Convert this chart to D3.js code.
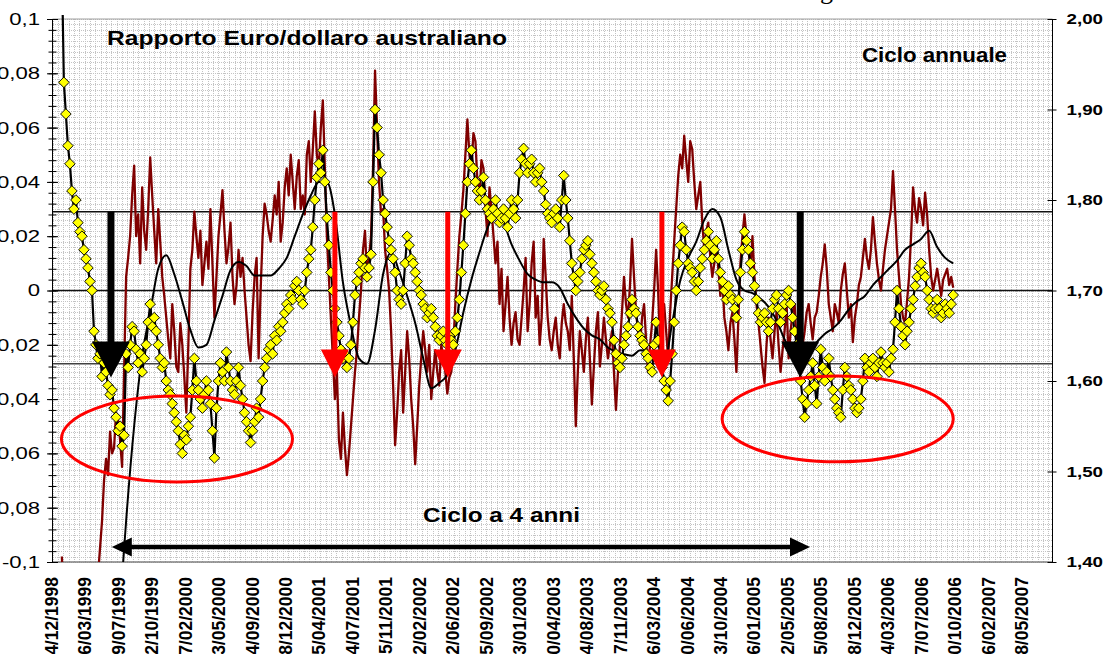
<!DOCTYPE html>
<html>
<head>
<meta charset="utf-8">
<script src="https://cdn.jsdelivr.net/npm/d3@7"></script>
<style>
html, body { margin: 0; padding: 0; background: #fff; overflow: hidden; }
svg { display: block; }
text { font-family: "Liberation Sans", Arial, sans-serif; }
</style>
</head>
<body>
<div id="chart"></div>
<script>
// Etichette dell'asse delle categorie (posizione = indice dell'etichetta)
const DATE_LABELS = [
    "14/12/1998", "26/03/1999", "09/07/1999", "22/10/1999", "07/02/2000", "23/05/2000",
    "04/09/2000", "18/12/2000", "05/04/2001", "24/07/2001", "05/11/2001", "22/02/2002",
    "12/06/2002", "25/09/2002", "13/01/2003", "30/04/2003", "14/08/2003", "27/11/2003",
    "16/03/2004", "30/06/2004", "13/10/2004", "26/01/2005", "12/05/2005", "25/08/2005",
    "08/12/2005", "24/03/2006", "07/07/2006", "20/10/2006", "06/02/2007", "18/05/2007"
];
const X_MAX = 29.887;   // fine dell'asse, in intervalli fra etichette

// Serie campionate: primo punto e passo, in intervalli fra etichette
const SERIES_START = 0.28;
const SERIES_STEP = 0.06;

// Oscillatore ciclo annuale (asse sinistro)
const OSCILLATOR = [
    -0.098, -0.115, -0.13, -0.15, -0.16, -0.17, -0.18, -0.175, -0.17, -0.16,
    -0.15, -0.145, -0.14, -0.135, -0.13, -0.125, -0.12, -0.11, -0.105, -0.095,
    -0.085, -0.07, -0.062, -0.068, -0.052, -0.06, -0.058, -0.045, -0.048, -0.055,
    -0.065, -0.03, 0.005, 0.012, 0.020, 0.035, 0.046, 0.02, 0.028, 0.01,
    0.038, 0.022, 0.015, 0.03, 0.049, 0.035, 0.022, 0.01, 0.030, 0.018,
    0.005, -0.002, -0.010, -0.018, -0.025, -0.005, -0.015, -0.028, -0.030, -0.012,
    -0.020, -0.032, -0.045, -0.02, 0.008, 0.015, 0.029, 0.02, 0.012, 0.022,
    0.002, 0.01, 0.018, 0.008, 0.030, 0.01, -0.010, 0.005, 0.020, 0.028,
    0.037, 0.022, 0.010, 0.016, 0.025, 0.005, -0.005, 0.002, 0.015, 0.005,
    0.012, 0.0, -0.010, -0.02, -0.026, -0.008, 0.005, 0.012, -0.025, 0.0,
    0.020, 0.032, 0.028, 0.022, 0.018, 0.026, 0.035, 0.028, 0.040, 0.018,
    0.025, 0.038, 0.045, 0.035, 0.050, 0.04, 0.030, 0.042, 0.048, 0.03,
    0.035, 0.028, 0.050, 0.055, 0.040, 0.052, 0.066, 0.05, 0.045, 0.06,
    0.070, 0.045, 0.020, 0.005, -0.010, -0.025, -0.040, -0.03, -0.055, -0.062,
    -0.045, -0.058, -0.068, -0.06, -0.050, -0.04, -0.030, -0.022, -0.010, 0.0,
    0.015, 0.022, 0.005, 0.012, 0.020, 0.045, 0.081, 0.06, 0.040, 0.028,
    0.030, 0.015, 0.008, 0.0, -0.015, -0.035, -0.057, -0.045, -0.030, -0.022,
    -0.045, -0.03, -0.015, -0.025, -0.040, -0.05, -0.064, -0.05, -0.035, -0.025,
    -0.015, -0.022, -0.030, -0.02, -0.040, -0.03, -0.022, -0.03, -0.035, -0.02,
    -0.025, -0.03, -0.038, -0.032, -0.030, -0.02, -0.005, 0.008, 0.020, 0.028,
    0.037, 0.05, 0.063, 0.05, 0.045, 0.058, 0.055, 0.04, 0.035, 0.048,
    0.045, 0.03, 0.020, 0.038, 0.030, 0.02, 0.010, 0.018, -0.005, 0.008,
    -0.015, -0.005, 0.005, -0.01, -0.020, -0.012, -0.008, -0.018, -0.020, -0.01,
    0.000, 0.012, -0.015, -0.005, 0.010, 0.018, -0.010, -0.002, -0.020, -0.01,
    0.019, 0.005, -0.010, -0.018, -0.022, -0.015, -0.010, -0.02, -0.025, -0.012,
    -0.005, -0.012, -0.015, -0.022, -0.002, -0.025, -0.050, -0.03, -0.015, -0.022,
    -0.030, -0.018, -0.010, -0.025, -0.042, -0.028, -0.015, -0.008, -0.028, -0.02,
    -0.010, -0.018, -0.025, -0.02, -0.015, -0.03, -0.044, -0.03, -0.020, -0.008,
    0.005, -0.005, -0.010, 0.002, 0.019, 0.005, -0.008, -0.015, -0.020, -0.01,
    -0.005, -0.018, -0.030, -0.02, -0.012, 0.0, 0.015, 0.0, -0.020, -0.012,
    -0.005, -0.015, -0.025, -0.008, 0.005, 0.018, 0.030, 0.042, 0.050, 0.045,
    0.057, 0.048, 0.040, 0.055, 0.052, 0.04, 0.030, 0.035, 0.040, 0.025,
    0.015, 0.022, 0.025, 0.012, 0.005, 0.01, 0.018, 0.008, -0.002, 0.004,
    -0.010, -0.015, -0.022, -0.012, -0.008, -0.018, -0.030, -0.01, 0.010, 0.02,
    0.028, 0.02, 0.015, 0.008, 0.020, 0.005, -0.005, -0.012, -0.020, -0.028,
    -0.034, -0.02, -0.010, -0.018, -0.025, -0.015, -0.008, -0.02, -0.030, -0.022,
    -0.015, -0.005, -0.025, -0.015, -0.008, -0.005, -0.020, -0.012, -0.010, -0.02,
    -0.015, -0.008, -0.005, -0.012, -0.018, -0.01, -0.008, -0.002, 0.005, 0.01,
    0.017, 0.008, -0.005, -0.01, -0.015, -0.005, -0.008, -0.012, 0.000, 0.006,
    0.010, 0.0, -0.010, -0.005, -0.019, -0.01, -0.005, 0.002, 0.005, 0.012,
    0.019, 0.012, 0.008, 0.015, 0.027, 0.018, 0.010, 0.004, 0.000, 0.008,
    0.015, 0.02, 0.025, 0.03, 0.044, 0.03, 0.015, 0.005, -0.005, -0.01,
    -0.012, -0.004, 0.005, 0.02, 0.038, 0.03, 0.025, 0.034, 0.030, 0.024,
    0.036, 0.028, 0.015, 0.005, 0.000, 0.004, 0.008, 0.003, -0.002, 0.004,
    0.006, 0.008, 0.002, 0.005, 0.001
];

// Cambio EUR/AUD (asse destro)
const PRICE = [
    2.06, 1.93, 1.895, 1.86, 1.84, 1.81, 1.79, 1.80, 1.775, 1.765,
    1.76, 1.745, 1.735, 1.725, 1.71, 1.70, 1.655, 1.64, 1.625, 1.63,
    1.605, 1.62, 1.61, 1.595, 1.585, 1.59, 1.57, 1.56, 1.545, 1.55,
    1.528, 1.54, 1.63, 1.615, 1.64, 1.66, 1.655, 1.635, 1.62, 1.63,
    1.61, 1.625, 1.64, 1.665, 1.685, 1.66, 1.67, 1.655, 1.64, 1.625,
    1.615, 1.62, 1.60, 1.59, 1.585, 1.575, 1.565, 1.555, 1.545, 1.53,
    1.52, 1.54, 1.535, 1.55, 1.56, 1.59, 1.625, 1.60, 1.59, 1.58,
    1.57, 1.585, 1.60, 1.59, 1.575, 1.545, 1.515, 1.57, 1.60, 1.62,
    1.61, 1.60, 1.632, 1.615, 1.60, 1.59, 1.585, 1.60, 1.615, 1.595,
    1.58, 1.565, 1.555, 1.545, 1.532, 1.545, 1.555, 1.57, 1.56, 1.58,
    1.60, 1.615, 1.625, 1.635, 1.64, 1.63, 1.65, 1.645, 1.66, 1.655,
    1.665, 1.675, 1.685, 1.68, 1.695, 1.69, 1.705, 1.71, 1.70, 1.69,
    1.685, 1.70, 1.72, 1.735, 1.745, 1.77, 1.80, 1.825, 1.84, 1.83,
    1.855, 1.82, 1.78, 1.75, 1.72, 1.70, 1.68, 1.665, 1.65, 1.635,
    1.625, 1.63, 1.615, 1.625, 1.64, 1.665, 1.695, 1.71, 1.72, 1.73,
    1.735, 1.725, 1.715, 1.725, 1.74, 1.82, 1.90, 1.88, 1.85, 1.83,
    1.80, 1.785, 1.77, 1.755, 1.745, 1.735, 1.72, 1.70, 1.69, 1.685,
    1.70, 1.73, 1.76, 1.75, 1.735, 1.73, 1.72, 1.71, 1.70, 1.695,
    1.685, 1.68, 1.67, 1.675, 1.68, 1.67, 1.66, 1.65, 1.645, 1.65,
    1.655, 1.645, 1.64, 1.65, 1.645, 1.64, 1.655, 1.67, 1.69, 1.72,
    1.75, 1.785, 1.82, 1.84, 1.855, 1.835, 1.82, 1.81, 1.80, 1.81,
    1.825, 1.80, 1.79, 1.785, 1.78, 1.79, 1.80, 1.785, 1.775, 1.78,
    1.79, 1.78, 1.77, 1.785, 1.80, 1.79, 1.78, 1.80, 1.83, 1.845,
    1.857, 1.84, 1.83, 1.84, 1.845, 1.83, 1.82, 1.83, 1.835, 1.82,
    1.81, 1.795, 1.785, 1.78, 1.775, 1.785, 1.79, 1.78, 1.77, 1.80,
    1.827, 1.80, 1.78, 1.755, 1.73, 1.715, 1.70, 1.71, 1.72, 1.735,
    1.745, 1.75, 1.755, 1.74, 1.73, 1.72, 1.71, 1.70, 1.695, 1.70,
    1.705, 1.69, 1.68, 1.675, 1.665, 1.645, 1.63, 1.62, 1.615, 1.625,
    1.64, 1.65, 1.66, 1.675, 1.69, 1.68, 1.675, 1.66, 1.65, 1.645,
    1.64, 1.63, 1.625, 1.615, 1.61, 1.64, 1.665, 1.645, 1.63, 1.615,
    1.60, 1.59, 1.578, 1.60, 1.63, 1.665, 1.70, 1.73, 1.75, 1.77,
    1.765, 1.745, 1.73, 1.725, 1.72, 1.71, 1.70, 1.71, 1.725, 1.735,
    1.745, 1.755, 1.765, 1.75, 1.735, 1.745, 1.755, 1.735, 1.72, 1.71,
    1.70, 1.69, 1.705, 1.695, 1.69, 1.68, 1.67, 1.69, 1.72, 1.745,
    1.765, 1.755, 1.745, 1.73, 1.72, 1.705, 1.69, 1.675, 1.665, 1.67,
    1.675, 1.665, 1.655, 1.665, 1.68, 1.69, 1.695, 1.68, 1.665, 1.675,
    1.685, 1.695, 1.70, 1.685, 1.67, 1.655, 1.64, 1.62, 1.60, 1.58,
    1.56, 1.575, 1.59, 1.605, 1.62, 1.595, 1.575, 1.605, 1.635, 1.615,
    1.60, 1.61, 1.625, 1.605, 1.59, 1.58, 1.57, 1.565, 1.56, 1.59,
    1.615, 1.605, 1.595, 1.59, 1.58, 1.57, 1.565, 1.57, 1.58, 1.60,
    1.625, 1.615, 1.61, 1.62, 1.625, 1.615, 1.605, 1.62, 1.632, 1.62,
    1.615, 1.62, 1.61, 1.625, 1.635, 1.665, 1.70, 1.68, 1.66, 1.65,
    1.64, 1.655, 1.665, 1.68, 1.69, 1.705, 1.715, 1.725, 1.73, 1.72,
    1.715, 1.70, 1.69, 1.68, 1.675, 1.68, 1.69, 1.68, 1.67, 1.675,
    1.685, 1.68, 1.675, 1.685, 1.695
];

// Ciclo di lungo periodo (linea nera)
const TREND_START = 1.48;
const TREND_STEP = 0.24;
const TREND = [
    -0.25, -0.19, -0.13, -0.085, -0.05, -0.024, -0.008, 0.008, 0.013, 0.006,
    -0.004, -0.0145, -0.021, -0.020, -0.011, -0.002, 0.0075, 0.0105, 0.009, 0.0055,
    0.0055, 0.0055, 0.008, 0.012, 0.020, 0.028, 0.035, 0.040, 0.040, 0.028,
    0.003, -0.013, -0.025, -0.027, -0.0145, 0.006, 0.014, 0.007, -0.002, -0.012,
    -0.025, -0.036, -0.034, -0.031, -0.022, -0.008, 0.004, 0.014, 0.023, 0.028,
    0.025, 0.017, 0.011, 0.006, 0.004, 0.003, 0.003, 0.001, -0.005, -0.010,
    -0.014, -0.0165, -0.018, -0.021, -0.0225, -0.0235, -0.024, -0.022, -0.0225, -0.025,
    -0.027, -0.012, 0.0036, 0.012, 0.018, 0.026, 0.030, 0.027, 0.015, 0.004,
    0.000, -0.001, -0.003, -0.006, -0.011, -0.018, -0.023, -0.025, -0.022, -0.019,
    -0.016, -0.014, -0.011, -0.007, -0.004, -0.002, 0.002, 0.005, 0.008, 0.011,
    0.015, 0.017, 0.019, 0.022, 0.016, 0.012, 0.010
];

// Livelli orizzontali e tacche degli assi
const REF_LEVELS = [0.029, 0, -0.027];
const LEFT_TICKS = [0.1, 0.08, 0.06, 0.04, 0.02, 0, -0.02, -0.04, -0.06, -0.08, -0.1];
const RIGHT_TICKS = [2.0, 1.9, 1.8, 1.7, 1.6, 1.5, 1.4];

// Annotazioni
const ARROWS = [
    { at: 1.747, color: "#000", shaft: 7, headW: 38, headH: 36 },
    { at: 8.44, color: "#ff0000", shaft: 5, headW: 28, headH: 28 },
    { at: 11.813, color: "#ff0000", shaft: 5, headW: 28, headH: 28 },
    { at: 18.213, color: "#ff0000", shaft: 5, headW: 28, headH: 28 },
    { at: 22.347, color: "#000", shaft: 7, headW: 38, headH: 36 }
];
const ARROW_FROM = 0.029, ARROW_TO = -0.032;
const ELLIPSES = [
    { at: 3.72, v: -0.0547 },
    { at: 23.467, v: -0.0473 }
];
const ELLIPSE_RX = 3.453, ELLIPSE_RV = 0.0158;
const CYCLE_ARROW = { from: 1.773, to: 22.64, v: -0.0945 };

const W = 1104, H = 654;
const plot = { left: 52.5, right: 1052.5, top: 19, bottom: 562 };

const svg = d3.select("#chart").append("svg")
    .attr("width", W).attr("height", H);

const x = d3.scaleLinear().domain([0, X_MAX]).range([plot.left, plot.right]);
const yL = d3.scaleLinear().domain([-0.1, 0.1]).range([plot.bottom, plot.top]);
const yR = d3.scaleLinear().domain([1.4, 2.0]).range([plot.bottom, plot.top]);

// allarga orizzontalmente i testi (il grafico originale è stirato in larghezza)
function stretch(sel, k) {
    sel.each(function () {
        const w = this.getComputedTextLength();
        d3.select(this).attr("textLength", w * k).attr("lengthAdjust", "spacingAndGlyphs");
    });
}

svg.append("defs").append("clipPath").attr("id", "clip")
    .append("rect")
    .attr("x", plot.left).attr("y", plot.top - 4)
    .attr("width", plot.right - plot.left).attr("height", plot.bottom - plot.top + 4);

// Griglia fitta punteggiata
const grid = svg.append("g").attr("shape-rendering", "crispEdges");
grid.selectAll("line.h")
    .data(d3.range(-0.1, 0.1001, 0.002))
    .enter().append("line")
    .attr("x1", plot.left).attr("x2", plot.right)
    .attr("y1", d => Math.round(yL(d)) + 0.5).attr("y2", d => Math.round(yL(d)) + 0.5)
    .attr("stroke", "#c4c4c4").attr("stroke-dasharray", "1,1");
grid.selectAll("line.v")
    .data(d3.range(0, X_MAX, 0.16))
    .enter().append("line")
    .attr("y1", plot.top).attr("y2", plot.bottom)
    .attr("x1", d => Math.round(x(d)) + 0.5).attr("x2", d => Math.round(x(d)) + 0.5)
    .attr("stroke", "#c4c4c4").attr("stroke-dasharray", "1,1");

// Bordo area del grafico
svg.append("line").attr("x1", plot.left).attr("x2", plot.right)
    .attr("y1", plot.top).attr("y2", plot.top).attr("stroke", "#a0a0a0");
svg.append("line").attr("x1", plot.left).attr("x2", plot.right)
    .attr("y1", plot.bottom).attr("y2", plot.bottom).attr("stroke", "#808080").attr("stroke-width", 1.5);

// Livelli di riferimento
svg.selectAll("line.ref")
    .data(REF_LEVELS)
    .enter().append("line")
    .attr("x1", plot.left).attr("x2", plot.right)
    .attr("y1", d => yL(d)).attr("y2", d => yL(d))
    .attr("stroke", (d, i) => i === 2 ? "#404040" : "#111")
    .attr("stroke-width", 1.5);

const series = svg.append("g").attr("clip-path", "url(#clip)");
const sx = i => x(SERIES_START + i * SERIES_STEP);

// Oscillatore (rosso scuro)
series.append("path")
    .datum(OSCILLATOR)
    .attr("fill", "none").attr("stroke", "#800000").attr("stroke-width", 2.3)
    .attr("stroke-linejoin", "round")
    .attr("d", d3.line().x((d, i) => sx(i)).y(d => yL(d)));

// Ciclo lungo (nero)
series.append("path")
    .datum(TREND)
    .attr("fill", "none").attr("stroke", "#000").attr("stroke-width", 2)
    .attr("d", d3.line()
        .x((d, i) => x(TREND_START + i * TREND_STEP))
        .y(d => yL(d))
        .curve(d3.curveMonotoneX));

// Prezzo: linea nera con rombi gialli
series.append("path")
    .datum(PRICE)
    .attr("fill", "none").attr("stroke", "#000").attr("stroke-width", 2.2)
    .attr("d", d3.line().x((d, i) => sx(i)).y(d => yR(d)));

const diamond = d3.symbol().type(d3.symbolSquare).size(56);
series.selectAll("path.dm")
    .data(PRICE)
    .enter().append("path")
    .attr("d", diamond)
    .attr("transform", (d, i) => `translate(${sx(i)},${yR(d)}) rotate(45)`)
    .attr("fill", "#ffff00").attr("stroke", "#000").attr("stroke-width", 0.9);

// Frecce verticali
const ann = svg.append("g");
ARROWS.forEach(a => {
    const cx = x(a.at), y0 = yL(ARROW_FROM), y1 = yL(ARROW_TO);
    const s = a.shaft / 2, hw = a.headW / 2, yh = y1 - a.headH;
    const pts = [[cx - s, y0], [cx + s, y0], [cx + s, yh], [cx + hw, yh], [cx, y1],
                 [cx - hw, yh], [cx - s, yh]];
    ann.append("path")
        .attr("d", d3.line()(pts) + "Z")
        .attr("fill", a.color);
});

// Ellissi
ann.selectAll("ellipse")
    .data(ELLIPSES)
    .enter().append("ellipse")
    .attr("cx", d => x(d.at)).attr("cy", d => yL(d.v))
    .attr("rx", x(ELLIPSE_RX) - x(0))
    .attr("ry", yL(0) - yL(ELLIPSE_RV))
    .attr("fill", "none").attr("stroke", "#ff0000").attr("stroke-width", 3);

// Freccia doppia "Ciclo a 4 anni"
{
    const x1 = x(CYCLE_ARROW.from), x2 = x(CYCLE_ARROW.to), yy = yL(CYCLE_ARROW.v);
    const hl = 20, hh = 9.5;
    ann.append("line")
        .attr("x1", x1 + hl - 2).attr("x2", x2 - hl + 2)
        .attr("y1", yy).attr("y2", yy)
        .attr("stroke", "#000").attr("stroke-width", 4.5);
    ann.append("path").attr("fill", "#000")
        .attr("d", d3.line()([[x1, yy], [x1 + hl, yy - hh], [x1 + hl, yy + hh]]) + "Z");
    ann.append("path").attr("fill", "#000")
        .attr("d", d3.line()([[x2, yy], [x2 - hl, yy - hh], [x2 - hl, yy + hh]]) + "Z");
}

// Asse sinistro
const fmtL = v => v === 0 ? "0" : String(+v.toFixed(2)).replace(".", ",");
svg.append("line").attr("x1", plot.left).attr("x2", plot.left)
    .attr("y1", plot.top).attr("y2", plot.bottom).attr("stroke", "#000");
const axL = svg.append("g").attr("transform", `translate(${plot.left + 5.5},0)`)
    .call(d3.axisLeft(yL).tickValues(LEFT_TICKS).tickSize(11).tickPadding(7).tickFormat(fmtL));
axL.select(".domain").remove();
axL.selectAll("line").attr("stroke", "#000");
axL.selectAll("text").attr("font-size", 17).attr("fill", "#000")
    .style("font-family", '"Liberation Sans", Arial, sans-serif')
    .call(stretch, 1.3);
const axLm = svg.append("g").attr("transform", `translate(${plot.left + 4},0)`)
    .call(d3.axisLeft(yL).tickValues(d3.range(-0.1, 0.1001, 0.004)).tickSize(8).tickFormat(""));
axLm.select(".domain").remove();
axLm.selectAll("line").attr("stroke", "#000");

// Asse destro
const fmtR = v => v.toFixed(2).replace(".", ",");
svg.append("line").attr("x1", plot.right).attr("x2", plot.right)
    .attr("y1", plot.top).attr("y2", plot.bottom).attr("stroke", "#000");
const axR = svg.append("g").attr("transform", `translate(${plot.right - 5},0)`)
    .call(d3.axisRight(yR).tickValues(RIGHT_TICKS).tickSize(9).tickPadding(10).tickFormat(fmtR));
axR.select(".domain").remove();
axR.selectAll("line").attr("stroke", "#000");
axR.selectAll("text").attr("font-size", 15).attr("font-weight", "bold").attr("fill", "#000")
    .style("font-family", '"Liberation Sans", Arial, sans-serif')
    .call(stretch, 1.25);

// Etichette date (ruotate)
svg.append("g").selectAll("text")
    .data(DATE_LABELS)
    .enter().append("text")
    .attr("transform", (d, i) => `translate(${x(i) - 1},577) rotate(-90)`)
    .attr("text-anchor", "end").attr("dy", "0.36em")
    .attr("font-size", 17.5).attr("font-weight", "bold")
    .text(d => d);

// Testi
svg.append("text").attr("x", 107).attr("y", 45)
    .attr("font-size", 21).attr("font-weight", "bold")
    .attr("textLength", 400).attr("lengthAdjust", "spacingAndGlyphs")
    .text("Rapporto Euro/dollaro australiano");
svg.append("text").attr("x", 862).attr("y", 62)
    .attr("font-size", 20).attr("font-weight", "bold")
    .attr("textLength", 145).attr("lengthAdjust", "spacingAndGlyphs")
    .text("Ciclo annuale");
svg.append("text").attr("x", 423).attr("y", 522)
    .attr("font-size", 21).attr("font-weight", "bold")
    .attr("textLength", 157).attr("lengthAdjust", "spacingAndGlyphs")
    .text("Ciclo a 4 anni");
svg.append("text").attr("x", 820).attr("y", -1)
    .attr("font-size", 26).style("font-family", '"Liberation Serif", "Times New Roman", serif')
    .text("g");
</script>
</body>
</html>
